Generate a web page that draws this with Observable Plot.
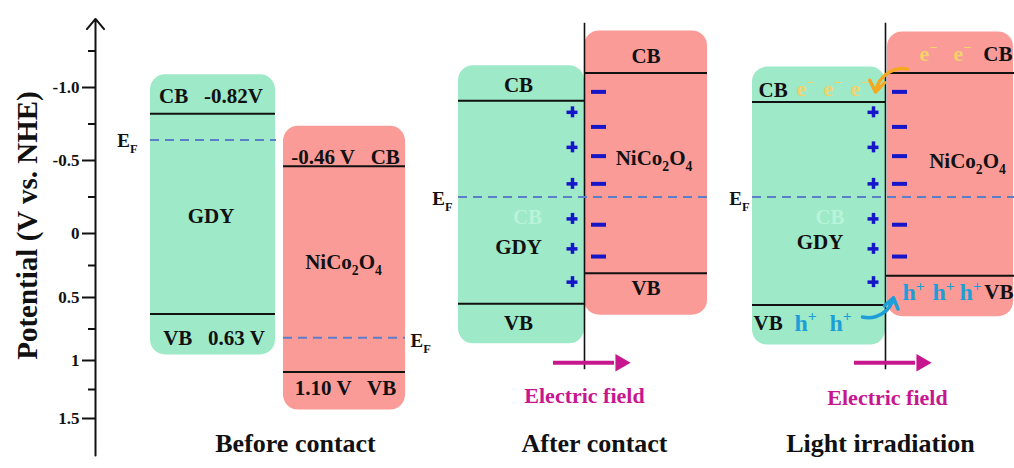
<!DOCTYPE html>
<html>
<head>
<meta charset="utf-8">
<script src="https://cdn.jsdelivr.net/npm/d3@7"></script>
<script src="https://cdn.jsdelivr.net/npm/@observablehq/plot@0.6"></script>
<style>
  body { margin: 0; background: #fff; }
</style>
</head>
<body>
<div id="chart"></div>
<script>
// ---- Potential axis (V vs. NHE) ----
const majorTicks = [-1.0, -0.5, 0, 0.5, 1, 1.5];
const majorTickLabels = ["-1.0", "-0.5", "0", "0.5", "1", "1.5"];
const minorTicks = [-1.25, -0.75, -0.25, 0.25, 0.75, 1.25];

// ---- Stages of the GDY / NiCo2O4 junction ----
const stages = ["Before contact", "After contact", "Light irradiation"];

// Band edges for each stage (V vs. NHE)
const gdyCB = [-0.82, -0.91, -0.90];
const gdyVB = [0.63, 0.55, 0.56];
const nicoCB = [-0.46, -1.10, -1.10];
const nicoVB = [1.10, 0.31, 0.33];

// Fermi levels: separate before contact, aligned once in contact
const gdyEF = [-0.64, -0.25, -0.25];
const nicoEF = [0.82, -0.25, -0.25];

// Space-charge layer at the interface (potential of each charge)
const positiveCharges = [-0.83, -0.59, -0.34, -0.10, 0.12, 0.38];
const negativeCharges = [-0.97, -0.73, -0.53, -0.34, -0.06, 0.18];

// ---- Layout ----
const W = 1014, H = 468;
const axisX = 95;
const yScale = {
  type: "linear",
  domain: [-1.0, -0.5, 0, 0.5, 1, 1.5],
  range: [87, 160, 233, 297, 360, 418]
};
const ys = Plot.scale({y: yScale});
// value shifted by a pixel offset along the potential axis
const at = (v, dy) => ys.invert(ys.apply(v) + dy);

const stageLayout = [
  {gdy: [150, 275], nico: [283, 405], pads: {gdy: [39, 41], nico: [40, 38]}, title: 295},
  {gdy: [458, 584], nico: [584, 707], iface: 584, pads: {gdy: [35, 40], nico: [42, 42]}, title: 594},
  {gdy: [752, 885], nico: [887, 1013], iface: 885, pads: {gdy: [35, 40], nico: [41, 41]}, title: 880}
];
const axisSpan = [1.82, -1.47];
const ifaceSpan = [-1.44, 1.08];
const fieldV = 1.02;

const GREEN = "#9ee9c7", RED = "#fa9b98", EFC = "#5b7ec8", INK = "#111",
      CHARGE = "#1616c8", FIELD = "#c8168f", ELECTRON = "#f2d36a",
      HOLE = "#1c9ed9", GHOST = "#b8f3da", ORANGE = "#f6a820";

const fmt = v => v.toFixed(2);
const mid = a => (a[0] + a[1]) / 2;

// ---- Derived records ----
const boxes = [], bands = [], fermi = [];
stageLayout.forEach((L, i) => {
  boxes.push({x1: L.gdy[0], x2: L.gdy[1], top: gdyCB[i], bottom: gdyVB[i], fill: GREEN, pad: L.pads.gdy});
  boxes.push({x1: L.nico[0], x2: L.nico[1], top: nicoCB[i], bottom: nicoVB[i], fill: RED, pad: L.pads.nico});
  const nicoLeft = L.iface ?? L.nico[0];
  const nicoRight = i === 2 ? W : L.nico[1];
  bands.push({x1: L.gdy[0], x2: L.gdy[1], v: gdyCB[i]}, {x1: L.gdy[0], x2: L.gdy[1], v: gdyVB[i]});
  bands.push({x1: nicoLeft, x2: nicoRight, v: nicoCB[i]}, {x1: nicoLeft, x2: nicoRight, v: nicoVB[i]});
  if (i === 0) {
    fermi.push({x1: L.gdy[0], x2: L.gdy[1] + 1, v: gdyEF[i]}, {x1: L.nico[0], x2: L.nico[1], v: nicoEF[i]});
  } else {
    fermi.push({x1: L.gdy[0], x2: nicoRight, v: gdyEF[i]});
  }
});

const contactStages = [1, 2];
const plusMarks = contactStages.flatMap(i => positiveCharges.map(v => ({x: stageLayout[i].iface - 12, v})));
const minusMarks = contactStages.flatMap(i => negativeCharges.map(v => ({x1: stageLayout[i].iface + 7, x2: stageLayout[i].iface + 22, v})));

// text labels: x, potential anchor + pixel offset, text, style
const lab = (x, v, dy, text, o = {}) => ({x, y: at(v, dy), text, fill: o.fill ?? INK, size: o.size ?? 21, anchor: o.anchor ?? "middle"});
const labels = [];
{
  const L = stageLayout[0];
  labels.push(
    lab(mid(L.gdy) - 2, gdyCB[0], -18, `CB\u2002 ${fmt(gdyCB[0])}V`),
    lab(mid(L.gdy) + 1, gdyVB[0], 24, `VB\u2002 ${fmt(gdyVB[0])} V`),
    lab(mid(L.nico) + 1, nicoCB[0], -9, `${fmt(nicoCB[0])} V\u2002 CB`),
    lab(mid(L.nico) + 1, nicoVB[0], 16, `${fmt(nicoVB[0])} V\u2002 VB`),
    lab(mid(L.gdy) - 2, (gdyCB[0] + gdyVB[0]) / 2, -3, "GDY"),
    lab(mid(L.nico) - 1, (nicoCB[0] + nicoVB[0]) / 2, -12, "NiCo_{2}O_{4}"),
    lab(L.gdy[0] - 13, gdyEF[0], 1, "E_{F}", {anchor: "end", size: 19}),
    lab(L.nico[1] + 5, nicoEF[0], 3, "E_{F}", {anchor: "start", size: 19})
  );
}
{
  const L = stageLayout[1], i = 1;
  labels.push(
    lab(mid(L.gdy) - 3, gdyCB[i], -15, "CB"),
    lab(mid(L.gdy) - 3, gdyVB[i], 19, "VB"),
    lab(mid(L.nico), nicoCB[i], -17, "CB"),
    lab(mid(L.nico), nicoVB[i], 15, "VB"),
    lab(mid(L.gdy) - 3, gdyVB[i], -57, "GDY"),
    lab(mid(L.gdy) + 6, gdyEF[i], 20, "CB", {fill: GHOST}),
    lab(mid(L.nico) + 8, nicoCB[i], 85, "NiCo_{2}O_{4}"),
    lab(L.gdy[0] - 6, gdyEF[i], 2, "E_{F}", {anchor: "end", size: 19}),
    lab(L.iface, fieldV, 33, "Electric field", {fill: FIELD, size: 22})
  );
}
{
  const L = stageLayout[2], i = 2;
  labels.push(
    lab(L.gdy[0] + 6, gdyCB[i], -12, "CB", {anchor: "start"}),
    ...[53, 80, 107].map(dx => lab(L.gdy[0] + dx, gdyCB[i], -13, "e^{−}", {fill: ELECTRON, size: 22})),
    lab(L.nico[1] - 1, nicoCB[i], -19, "CB", {anchor: "end"}),
    ...[41, 75].map(dx => lab(L.nico[0] + dx, nicoCB[i], -19, "e^{−}", {fill: ELECTRON, size: 22})),
    lab(mid(L.nico) + 17, nicoCB[i], 88, "NiCo_{2}O_{4}"),
    lab(mid(L.gdy) + 1, gdyVB[i], -63, "GDY"),
    lab(mid(L.gdy) + 11, gdyEF[i], 20, "CB", {fill: GHOST}),
    ...[26, 56, 83].map(dx => lab(L.nico[0] + dx, nicoVB[i], 17, "h^{+}", {fill: HOLE, size: 24})),
    lab(L.nico[1], nicoVB[i], 17, "VB", {anchor: "end"}),
    lab(L.gdy[0] + 1, gdyVB[i], 18, "VB", {anchor: "start"}),
    ...[53, 88].map(dx => lab(L.gdy[0] + dx, gdyVB[i], 18, "h^{+}", {fill: HOLE, size: 24})),
    lab(L.gdy[0] - 3, gdyEF[i], 2, "E_{F}", {anchor: "end", size: 19}),
    lab(L.iface + 2, fieldV, 35, "Electric field", {fill: FIELD, size: 22})
  );
}

// charge-transfer arrows under illumination
const L2 = stageLayout[2];
const flows = [
  {x1: L2.iface + 22, y1: at(nicoCB[2], -4), x2: L2.iface - 10, y2: at(gdyCB[2], -10), stroke: ORANGE},
  {x1: L2.iface - 23, y1: at(gdyVB[2], 12), x2: L2.iface + 8, y2: at(nicoVB[2], 22), stroke: HOLE}
];
const fieldArrows = contactStages.map(i => ({x1: stageLayout[i].iface - 31, x2: stageLayout[i].iface + 30, tip: stageLayout[i].iface + 36, v: fieldV}));

// plus signs drawn as two crossing strokes
const plusH = plusMarks.map(d => ({x1: d.x - 5.5, x2: d.x + 5.5, v: d.v}));
const plusV = plusMarks.map(d => ({x: d.x, y1: at(d.v, -5.5), y2: at(d.v, 5.5)}));

const textMarks = ["middle", "start", "end"].map(anchor =>
  Plot.text(labels.filter(d => d.anchor === anchor), {
    x: "x", y: "y", text: "text", fill: "fill", fontSize: d => d.size,
    textAnchor: anchor, fontWeight: "bold"
  })
);

const chart = Plot.plot({
  width: W,
  height: H,
  marginLeft: axisX, marginRight: 0, marginTop: 0, marginBottom: 0,
  x: {type: "linear", domain: [0, W], range: [0, W], axis: null},
  y: {...yScale, axis: null},
  color: {type: "identity"},
  style: {fontFamily: "Liberation Serif", fontWeight: "bold", background: "#fff", color: INK},
  marks: [
    // potential axis
    Plot.arrow([0], {x1: axisX, x2: axisX, y1: axisSpan[0], y2: axisSpan[1], stroke: INK, strokeWidth: 2, headLength: 10, headAngle: 80}),
    Plot.axisY(majorTicks, {anchor: "left", tickSize: 13, tickPadding: 3, strokeWidth: 2, fontSize: 17, fontWeight: "bold",
      tickFormat: d => majorTickLabels[majorTicks.indexOf(d)], label: null}),
    Plot.axisY(minorTicks, {anchor: "left", tickSize: 7, strokeWidth: 2, tickFormat: () => "", label: null}),
    Plot.text(["Potential (V vs. NHE)"], {frameAnchor: "left", textAnchor: "middle", dx: -68, dy: -9, rotate: -90, fontSize: 29, fontWeight: "bold"}),

    // semiconductor boxes
    ...boxes.map(b => Plot.rect([b], {x1: "x1", x2: "x2", y1: "top", y2: "bottom", fill: b.fill, rx: 15,
      insetTop: -b.pad[0], insetBottom: -b.pad[1]})),

    // interfaces
    Plot.ruleX(contactStages.map(i => stageLayout[i].iface), {x: d => d, y1: ifaceSpan[0], y2: ifaceSpan[1], stroke: INK, strokeWidth: 1.6}),

    // band edges and Fermi levels
    Plot.ruleY(bands, {y: "v", x1: "x1", x2: "x2", stroke: INK, strokeWidth: 2}),
    Plot.ruleY(fermi, {y: "v", x1: "x1", x2: "x2", stroke: EFC, strokeWidth: 2, strokeDasharray: "9,6"}),

    // space charges
    Plot.ruleY(plusH, {y: "v", x1: "x1", x2: "x2", stroke: CHARGE, strokeWidth: 3.5}),
    Plot.ruleX(plusV, {x: "x", y1: "y1", y2: "y2", stroke: CHARGE, strokeWidth: 3.5}),
    Plot.ruleY(minusMarks, {y: "v", x1: "x1", x2: "x2", stroke: CHARGE, strokeWidth: 4}),

    // built-in field arrows
    Plot.ruleY(fieldArrows, {y: "v", x1: "x1", x2: "x2", stroke: FIELD, strokeWidth: 4}),
    Plot.dot(fieldArrows, {x: "tip", y: "v", symbol: "triangle", r: 6.5, rotate: 90, fill: FIELD, stroke: null}),

    // carrier transfer under light
    Plot.arrow(flows, {x1: "x1", y1: "y1", x2: "x2", y2: "y2", stroke: "stroke", strokeWidth: 3.5, bend: -45, headLength: 9, headAngle: 70}),

    ...textMarks,

    // stage titles
    Plot.text(stages, {x: (d, i) => stageLayout[i].title, frameAnchor: "bottom", dy: -17, fontSize: 26, fontWeight: "bold"})
  ]
});

document.getElementById("chart").append(chart);

// Render _{…} and ^{…} as subscripts / superscripts
function enrich(svg) {
  const NS = "http://www.w3.org/2000/svg";
  for (const t of svg.querySelectorAll("text")) {
    const s = t.textContent;
    if (!/[_^]\{/.test(s)) continue;
    const fs = parseFloat(getComputedStyle(t).fontSize) || 16;
    const parts = s.split(/([_^]\{[^}]*\})/).filter(p => p);
    t.textContent = "";
    let shift = 0;
    for (const p of parts) {
      const ts = document.createElementNS(NS, "tspan");
      let target = 0, txt = p, small = false;
      if (p.startsWith("_{")) { target = 0.3 * fs; txt = p.slice(2, -1); small = true; }
      else if (p.startsWith("^{")) { target = -0.4 * fs; txt = p.slice(2, -1); small = true; }
      if (target !== shift) { ts.setAttribute("dy", target - shift); shift = target; }
      if (small) ts.setAttribute("font-size", 0.65 * fs);
      ts.textContent = txt;
      t.appendChild(ts);
    }
  }
}
enrich(chart);
</script>
</body>
</html>
